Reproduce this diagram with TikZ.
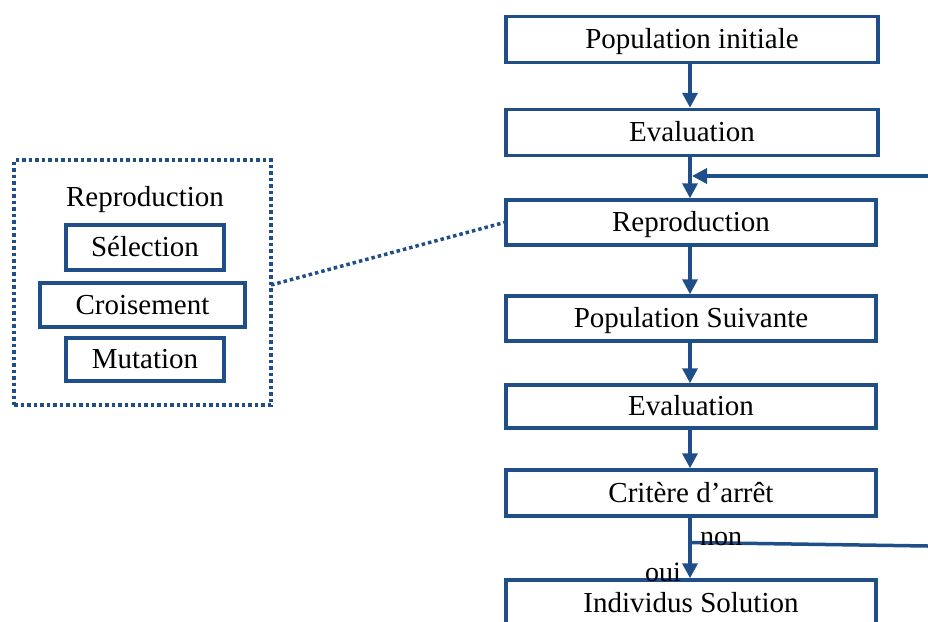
\documentclass[tikz,border=0pt]{standalone}
\usepackage{fontspec}
\setmainfont{Liberation Serif}
\usetikzlibrary{arrows.meta}
\definecolor{flowblue}{HTML}{1F4E89}
\begin{document}
\begin{tikzpicture}[x=1pt,y=-1pt,
  txt/.style={font=\fontsize{29}{33}\selectfont},
  boxed/.style={txt,draw=flowblue,line width=3.5pt,inner sep=0pt,text height=23pt,text depth=5pt},
  stage/.style={boxed,minimum width=372pt,minimum height=46pt},
  sub/.style={boxed,minimum height=44pt},
  link/.style={draw=flowblue,line width=3.5pt,-{Triangle[length=15pt,width=15pt]}},
  plain/.style={draw=flowblue,line width=3.5pt},
  dotline/.style={draw=flowblue,line width=3.5pt,dash pattern=on 3.5pt off 3pt}]
\useasboundingbox (0,0) rectangle (928,621);
% main chain
\node[stage] (init) at (692,39.5) {Population initiale};
\node[stage] (eval1) at (692,132.5) {Evaluation};
\node[stage,minimum width=370pt,minimum height=45pt] (repro) at (691,222.5) {Reproduction};
\node[stage,minimum width=370pt,minimum height=45pt] (next) at (691,318.5) {Population Suivante};
\node[stage,minimum width=370pt,minimum height=43pt] (eval2) at (691,406.5) {Evaluation};
\node[stage,minimum width=370pt,minimum height=46pt] (stop) at (691,493) {Critère d’arrêt};
\node[stage,minimum width=370pt,minimum height=46pt] (sol) at (691,603) {Individus Solution};
\draw[link] (init.south -| 690,0) -- (eval1.north -| 690,0);
\draw[link] (eval1.south -| 690,0) -- (repro.north -| 690,0);
\draw[link] (repro.south -| 690,0) -- (next.north -| 690,0);
\draw[link] (next.south -| 690,0) -- (eval2.north -| 690,0);
\draw[link] (eval2.south -| 690,0) -- (stop.north -| 690,0);
\draw[link] (stop.south -| 690,0) -- (sol.north -| 690,0);
% loop back from the stop test
\coordinate (backin) at (928,176);
\coordinate (backout) at (928,546);
\coordinate (split) at (690,542.5);
\draw[link] (backin) -- (692,176);
\draw[plain] (split) -- (backout);
\node[txt,font=\fontsize{28}{32}\selectfont,anchor=base west,inner sep=0pt] (non) at (700,545) {non};
\node[txt,font=\fontsize{28}{32}\selectfont,anchor=base west,inner sep=0pt] (oui) at (645,581) {oui};
% reproduction detail
\node[dotline,minimum width=257pt,minimum height=245pt,inner sep=0pt] (detail) at (142.5,282.5) {};
\node[txt,inner sep=0pt,text height=23pt,text depth=5pt] (dtitle) at (145,197) {Reproduction};
\node[sub,minimum width=158pt,minimum height=45pt] (sel) at (145,247.5) {Sélection};
\node[sub,minimum width=205pt] (cross) at (142.5,305) {Croisement};
\node[sub,minimum width=158pt,minimum height=43pt] (mut) at (145,359.5) {Mutation};
\draw[dotline] (271,285) -- (repro.west);
\end{tikzpicture}
\end{document}
